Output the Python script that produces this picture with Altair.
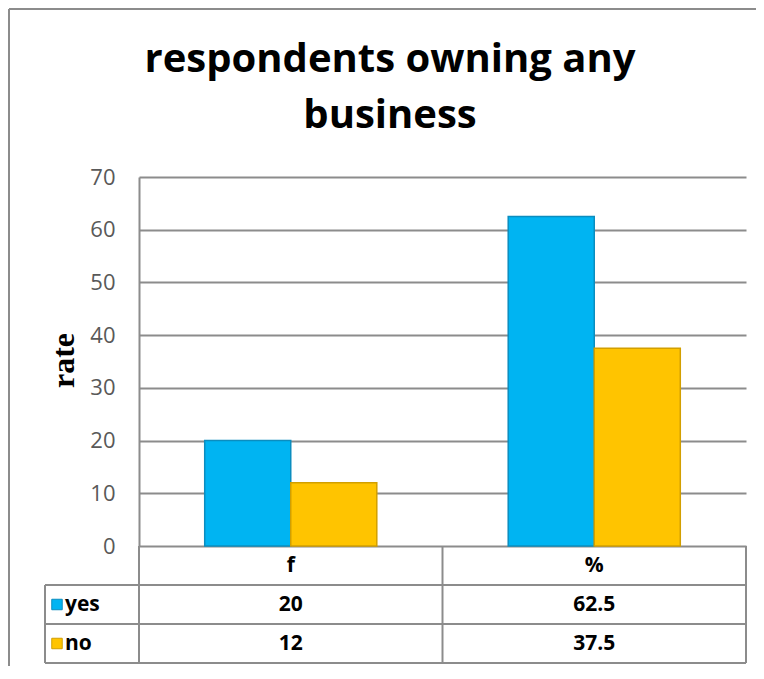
import altair as alt
import pandas as pd

# ---- data ----
categories = ["f", "%"]
series = ["yes", "no"]
yes_values = [20, 62.5]
no_values = [12, 37.5]
y_ticks = [0, 10, 20, 30, 40, 50, 60, 70]
title_lines = ["respondents owning any", "business"]
y_title = "rate"

# ---- style ----
colors = ["#00B4F2", "#FFC400"]
strokes = ["#0B8DBF", "#D29F00"]
GRID = "#8C8C8C"
W, H = 607, 369
ROW = 39
FONT = "Open Sans"

rows = []
for s, vals in zip(series, [yes_values, no_values]):
    for c, v in zip(categories, vals):
        rows.append({"category": c, "series": s, "value": v, "label": f"{v:g}"})
df = pd.DataFrame(rows)
cat_df = pd.DataFrame({"category": categories})
ser_df = pd.DataFrame({"series": series})
one = pd.DataFrame({"d": [0]})

x_enc = alt.X("category:N", sort=categories,
              scale=alt.Scale(paddingInner=0.433, paddingOuter=0.2165), axis=None)
color_enc = alt.Color("series:N", scale=alt.Scale(domain=series, range=colors), legend=None)
stroke_enc = alt.Stroke("series:N", scale=alt.Scale(domain=series, range=strokes), legend=None)

bars = alt.Chart(df).mark_bar(strokeWidth=1.5).encode(
    x=x_enc,
    xOffset=alt.XOffset("series:N", sort=series,
                        scale=alt.Scale(domain=series, paddingInner=0, paddingOuter=0)),
    y=alt.Y("value:Q", scale=alt.Scale(domain=[0, 70]),
            axis=alt.Axis(values=y_ticks, title=y_title, grid=True, ticks=False,
                          domain=True, domainColor=GRID, domainWidth=2,
                          gridColor=GRID, gridWidth=2,
                          labelFont=FONT, labelFontSize=22, labelColor="#595959",
                          labelPadding=24,
                          titleFont="Liberation Serif", titleFontWeight="bold",
                          titleFontSize=32, titleColor="#000000",
                          titleAngle=270, titleX=-76, titleY=183,
                          titleAlign="center", titleBaseline="middle")),
    color=color_enc,
    stroke=stroke_enc,
)


def hline(y, x1, x2):
    return alt.Chart(one).mark_rule(color=GRID, strokeWidth=2).encode(
        x=alt.value(x1), x2=alt.value(x2), y=alt.value(y))


def vline(x, y1, y2):
    return alt.Chart(one).mark_rule(color=GRID, strokeWidth=2).encode(
        x=alt.value(x), y=alt.value(y1), y2=alt.value(y2))


lines = [
    hline(H + ROW, -94, W),
    hline(H + 2 * ROW, -94, W),
    hline(H + 3 * ROW, -94, W),
    vline(0, H, H + 3 * ROW),
    vline(W / 2, H, H + 3 * ROW),
    vline(W, H, H + 3 * ROW),
    vline(-94, H + ROW, H + 3 * ROW),
    # outer frame
    hline(-168, -130, 617),
    vline(-130, -168, 489),
]

title = alt.Chart(one).mark_text(
    text=title_lines, font=FONT, fontSize=40, fontWeight="bold", color="#000000",
    align="center", baseline="alphabetic", lineHeight=56,
).encode(x=alt.value(251), y=alt.value(-105))

header = alt.Chart(cat_df).mark_text(
    font=FONT, fontSize=21, fontWeight="bold", color="#000000", baseline="middle"
).encode(x=x_enc, y=alt.value(H + ROW / 2), text="category:N")

value_layers = []
key_layers = []
for i, s in enumerate(series):
    yy = H + ROW * (i + 1) + ROW / 2
    value_layers.append(
        alt.Chart(df).transform_filter(alt.datum.series == s).mark_text(
            font=FONT, fontSize=21, fontWeight="bold", color="#000000", baseline="middle"
        ).encode(x=x_enc, y=alt.value(yy), text="label:N")
    )
    key_layers.append(
        alt.Chart(ser_df).transform_filter(alt.datum.series == s).mark_square(
            size=110, opacity=1, strokeWidth=1
        ).encode(x=alt.value(-82), y=alt.value(yy), color=color_enc, stroke=stroke_enc)
    )
    key_layers.append(
        alt.Chart(ser_df).transform_filter(alt.datum.series == s).mark_text(
            font=FONT, fontSize=21, fontWeight="bold", color="#000000",
            align="left", baseline="middle"
        ).encode(x=alt.value(-74), y=alt.value(yy), text="series:N")
    )

chart = alt.layer(
    *lines, bars, title, header, *value_layers, *key_layers
).properties(
    width=W, height=H,
    autosize=alt.AutoSizeParams(type="none"),
    padding={"left": 131, "top": 169, "right": 10, "bottom": 120},
    background="white",
).configure_view(stroke=None)

chart.save("out.html", embed_options={"renderer": "svg", "actions": False})
